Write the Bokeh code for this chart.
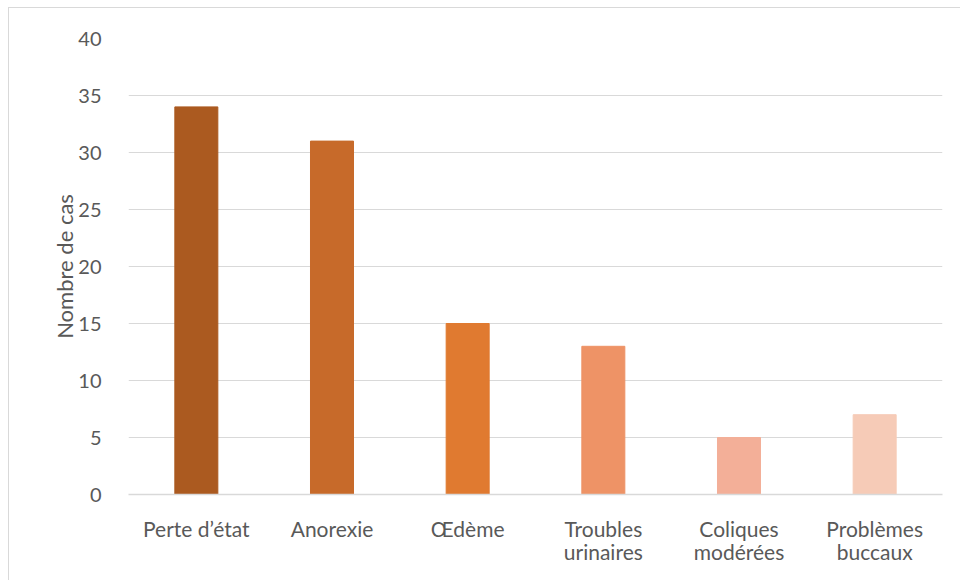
from bokeh.plotting import figure
from bokeh.models import ColumnDataSource, FixedTicker, CategoricalAxis, FactorRange
from bokeh.embed import file_html
from bokeh.resources import INLINE

# categories, written as the two lines of their axis labels
label_line1 = ["Perte d\u2019état", "Anorexie", "Œdème", "Troubles", "Coliques", "Problèmes"]
label_line2 = ["", " ", "  ", "urinaires", "modérées", "buccaux"]
values = [34, 31, 15, 13, 5, 7]
colors = ["#AB5A20", "#C76A2A", "#E07A30", "#EE9366", "#F3AF98", "#F6CBB7"]
y_ticks = [0, 5, 10, 15, 20, 25, 30, 35, 40]

src = ColumnDataSource(dict(cat=label_line1, val=values, color=colors))

p = figure(x_range=FactorRange(factors=label_line1), y_range=(0, 40), width=952, height=573,
           output_backend="svg", toolbar_location=None,
           min_border_left=119, min_border_right=19, min_border_top=30, min_border_bottom=87,
           margin=(7, 0, 0, 8),
           styles={"border-left": "1px solid #d9d9d9", "border-top": "1px solid #d9d9d9"})
p.extra_x_ranges = {"line2": FactorRange(factors=label_line2)}
p.vbar(x="cat", top="val", width=0.317, color="color", source=src)

p.outline_line_color = None
p.xgrid.grid_line_color = None
p.ygrid.grid_line_color = "#D9D9D9"
p.ygrid.grid_line_width = 1
p.yaxis.ticker = FixedTicker(ticks=y_ticks)
p.yaxis.axis_line_color = None
p.yaxis.major_tick_line_color = None
p.yaxis.minor_tick_line_color = None
p.yaxis.major_label_standoff = 21
p.yaxis.axis_label = "Nombre de cas"
p.yaxis.axis_label_standoff = -3
p.yaxis.major_label_text_font = "Lato"
p.yaxis.major_label_text_font_size = "20px"
p.yaxis.major_label_text_color = "#595959"
p.yaxis.axis_label_text_font = "Lato"
p.yaxis.axis_label_text_font_size = "22px"
p.yaxis.axis_label_text_color = "#595959"
p.yaxis.axis_label_text_font_style = "normal"

ax1 = p.xaxis[0]
ax1.axis_line_color = "#D9D9D9"
ax1.axis_line_width = 1.5
ax1.major_tick_line_color = None
ax1.major_label_standoff = 15

ax2 = CategoricalAxis(x_range_name="line2")
ax2.axis_line_color = None
ax2.major_tick_line_color = None
ax2.major_label_standoff = -11
p.add_layout(ax2, "below")

for ax in (ax1, ax2):
    ax.major_label_text_font = "Lato"
    ax.major_label_text_font_size = "21px"
    ax.major_label_text_color = "#595959"
    ax.major_label_orientation = "horizontal"

open("out.html", "w").write(file_html(p, INLINE))
